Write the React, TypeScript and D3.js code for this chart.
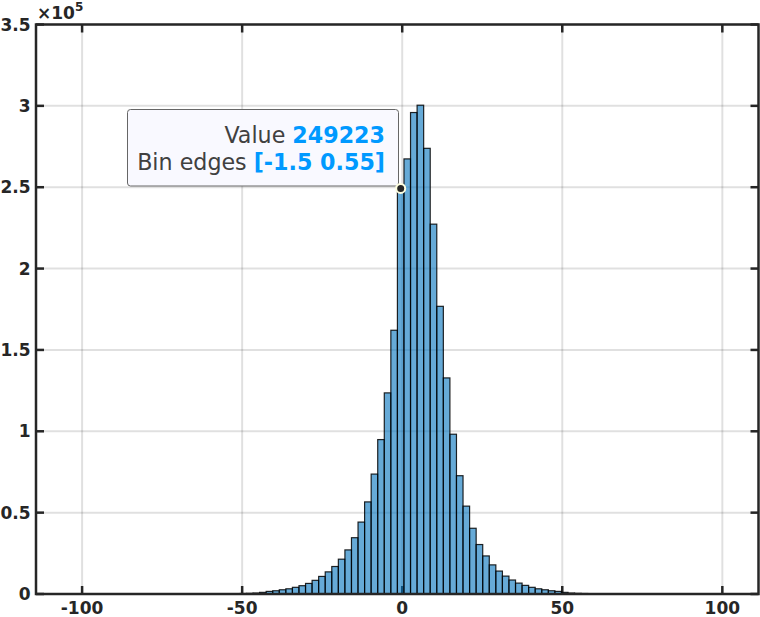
import * as d3 from "d3";
import { useEffect, useRef } from "react";

// histogram, BinWidth 2.05, first edge -52.75
const firstEdge = -52.75;
const binWidth = 2.05;
const counts = [
  200, 300, 400, 600, 1000, 1600, 2000, 2600, 3200, 4100, 5100, 6500, 8400,
  10800, 13600, 16900, 21400, 27100, 34600, 44200, 56600, 73700, 94900,
  123600, 162100, 249223, 267400, 295900, 300400, 273900, 227300, 176800,
  132800, 98200, 72700, 54000, 40400, 30400, 23400, 17900, 14100, 11000, 8600,
  6700, 5300, 4100, 3200, 2600, 2000, 1600, 1000, 600, 400, 300, 200,
];
const xTicks = [-100, -50, 0, 50, 100];
const yTicks = [0, 0.5, 1, 1.5, 2, 2.5, 3, 3.5];
const tipIndex = 25;
const tipLines = [
  ["Value ", "249223"],
  ["Bin edges ", "[-1.5 0.55]"],
];

const App = () => {
  const ref = useRef<SVGSVGElement | null>(null);

  useEffect(() => {
    const W = 760, H = 617;
    const margin = { top: 24.5, right: 1.5, bottom: 23, left: 36 };
    const svg = d3.select(ref.current);
    svg.selectAll("*").remove();

    const x = d3.scaleLinear().domain([-114.4, 111.3]).range([margin.left, W - margin.right]);
    const y = d3.scaleLinear().domain([0, 3.5]).range([H - margin.bottom, margin.top]);
    const axisColor = "#262626";
    const font = "DejaVu Sans, sans-serif";

    const bins = counts.map((c, i) => ({
      x0: firstEdge + i * binWidth,
      x1: firstEdge + (i + 1) * binWidth,
      v: c / 1e5,
    }));

    // grid
    const grid = svg.append("g").attr("stroke", "#000").attr("stroke-opacity", 0.12).attr("stroke-width", 2);
    xTicks.forEach((t) => {
      grid.append("line").attr("x1", x(t)).attr("x2", x(t)).attr("y1", y(0)).attr("y2", y(3.5));
    });
    yTicks.forEach((t) => {
      grid.append("line").attr("x1", x.range()[0]).attr("x2", x.range()[1]).attr("y1", y(t)).attr("y2", y(t));
    });

    // ticks (inward)
    const ticks = svg.append("g").attr("stroke", axisColor).attr("stroke-width", 2.5);
    xTicks.forEach((t) => {
      ticks.append("line").attr("x1", x(t)).attr("x2", x(t)).attr("y1", y(0)).attr("y2", y(0) - 8);
      ticks.append("line").attr("x1", x(t)).attr("x2", x(t)).attr("y1", y(3.5)).attr("y2", y(3.5) + 8);
    });
    yTicks.forEach((t) => {
      ticks.append("line").attr("x1", x.range()[0]).attr("x2", x.range()[0] + 8).attr("y1", y(t)).attr("y2", y(t));
      ticks.append("line").attr("x1", x.range()[1]).attr("x2", x.range()[1] - 8).attr("y1", y(t)).attr("y2", y(t));
    });

    // bars
    svg
      .append("g")
      .selectAll("rect")
      .data(bins)
      .join("rect")
      .attr("x", (d) => x(d.x0))
      .attr("width", (d) => x(d.x1) - x(d.x0))
      .attr("y", (d) => y(d.v))
      .attr("height", (d) => y(0) - y(d.v))
      .attr("fill", "rgba(0,114,189,0.6)")
      .attr("stroke", "#000")
      .attr("stroke-opacity", 0.85)
      .attr("stroke-width", 1.2);

    // box
    svg
      .append("rect")
      .attr("x", x.range()[0])
      .attr("y", y(3.5))
      .attr("width", x.range()[1] - x.range()[0])
      .attr("height", y(0) - y(3.5))
      .attr("fill", "none")
      .attr("stroke", axisColor)
      .attr("stroke-width", 2.5);

    // tick labels
    svg
      .append("g")
      .selectAll("text")
      .data(xTicks)
      .join("text")
      .attr("x", (d) => x(d))
      .attr("y", 613.5)
      .attr("text-anchor", "middle")
      .attr("font-family", font)
      .attr("font-weight", "bold")
      .attr("font-size", 17)
      .attr("fill", axisColor)
      .text((d) => String(d));

    svg
      .append("g")
      .selectAll("text")
      .data(yTicks)
      .join("text")
      .attr("x", 30.5)
      .attr("y", (d) => y(d))
      .attr("dy", "0.36em")
      .attr("text-anchor", "end")
      .attr("font-family", font)
      .attr("font-weight", "bold")
      .attr("font-size", 17)
      .attr("fill", axisColor)
      .text((d) => String(d));

    // exponent
    const exp = svg
      .append("text")
      .attr("x", 37)
      .attr("y", 18.5)
      .attr("font-family", font)
      .attr("font-weight", "bold")
      .attr("font-size", 17)
      .attr("fill", axisColor);
    exp.append("tspan").text("\u00d710");
    exp.append("tspan").attr("dy", -8).attr("font-size", 12).text("5");

    // datatip
    const tb = bins[tipIndex];
    const tipX = x((tb.x0 + tb.x1) / 2);
    const tipY = y(tb.v);
    svg
      .append("rect")
      .attr("x", 127.5)
      .attr("y", 109.5)
      .attr("width", 271)
      .attr("height", 76.5)
      .attr("rx", 3)
      .attr("fill", "#f9f9ff")
      .attr("stroke", "#666")
      .attr("stroke-width", 1);
    tipLines.forEach((l, i) => {
      const t = svg
        .append("text")
        .attr("x", 385)
        .attr("y", 143 + i * 27)
        .attr("text-anchor", "end")
        .attr("font-family", font)
        .attr("font-size", 22.2);
      t.append("tspan").attr("fill", "#404040").text(l[0]);
      t.append("tspan").attr("fill", "#0099ff").attr("font-weight", "bold").text(l[1]);
    });
    svg
      .append("circle")
      .attr("cx", tipX)
      .attr("cy", tipY)
      .attr("r", 4.5)
      .attr("fill", "#262626")
      .attr("stroke", "#ffffe0")
      .attr("stroke-width", 2);

    return () => {
      svg.selectAll("*").remove();
    };
  }, []);

  return (
    <svg
      ref={ref}
      width={760}
      height={617}
      style={{ position: "absolute", left: 0, top: 0, background: "#fff" }}
    />
  );
};

export default App;
